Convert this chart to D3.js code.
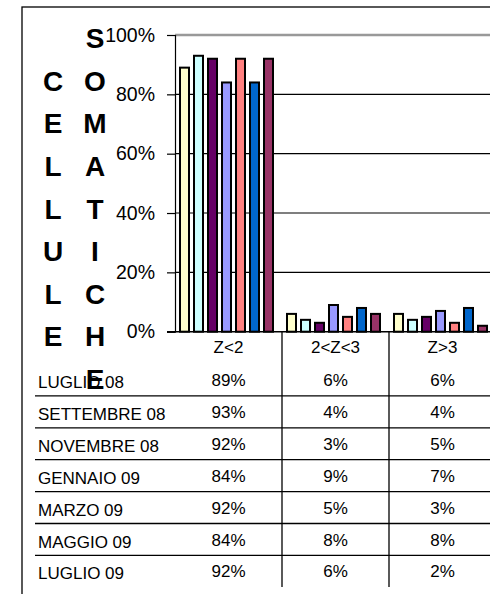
<!DOCTYPE html>
<html>
<head>
<meta charset="utf-8">
<script src="https://cdn.jsdelivr.net/npm/d3@7/dist/d3.min.js"></script>
<style>
  body { margin: 0; background: #fff; }
  text { font-family: "Liberation Sans", Arial, sans-serif; }
</style>
</head>
<body>
<svg id="chart" width="490" height="594"></svg>
<script>
// data
const categories = ["Z<2", "2<Z<3", "Z>3"];
const months = ["LUGLIO 08", "SETTEMBRE 08", "NOVEMBRE 08", "GENNAIO 09", "MARZO 09", "MAGGIO 09", "LUGLIO 09"];
const zLow  = [89, 93, 92, 84, 92, 84, 92];
const zMid  = [6, 4, 3, 9, 5, 8, 6];
const zHigh = [6, 4, 5, 7, 3, 8, 2];
const yTicks = [0, 20, 40, 60, 80, 100];
const titleLeft = "CELLULE";
const titleRight = "SOMATICHE";

const palette = ["#FFFFCC", "#CCFFFF", "#660066", "#9999FF", "#FF8080", "#0066CC", "#993366"];

let svg = d3.select("#chart");

let plotLeft = 175, plotTop = 35, plotBottom = 331.7, catW = 107;

let x = d3.scaleBand().domain(categories).range([plotLeft, plotLeft + catW * categories.length]);
let xs = d3.scaleBand().domain(months).range([5, 99]).paddingInner(0.286);
let y = d3.scaleLinear().domain([0, 100]).range([plotBottom, plotTop]);

// outer frame
svg.append("rect")
   .attr("x", 22).attr("y", 7)
   .attr("width", 600).attr("height", 700)
   .attr("fill", "none").attr("stroke", "#000").attr("stroke-width", 1.3);

// gridlines
svg.append("g").selectAll("line")
   .data(yTicks.filter(d => d > 0))
   .join("line")
   .attr("x1", plotLeft).attr("x2", 490)
   .attr("y1", d => y(d)).attr("y2", d => y(d))
   .attr("stroke", d => d === 100 ? "#999" : "#000")
   .attr("stroke-width", d => d === 100 ? 2.6 : 1.2);

// bars
let table = months.map((m, i) => ({ month: m, values: [zLow[i], zMid[i], zHigh[i]] }));
let barData = [];
table.forEach((row, i) => {
  categories.forEach((c, j) => barData.push({ cat: c, month: row.month, idx: i, value: row.values[j] }));
});

svg.append("g").selectAll("rect")
   .data(barData)
   .join("rect")
   .attr("x", d => x(d.cat) + xs(d.month))
   .attr("width", xs.bandwidth() - 1)
   .attr("y", d => y(d.value))
   .attr("height", d => y(0) - y(d.value))
   .attr("fill", d => palette[d.idx])
   .attr("stroke", "#000")
   .attr("stroke-width", 2);

// y axis
let yAxis = svg.append("g")
   .attr("transform", `translate(${plotLeft},0)`)
   .call(d3.axisLeft(y).tickValues(yTicks).tickFormat(d => d + "%").tickSize(8).tickPadding(12));
yAxis.select(".domain").attr("stroke", "#000").attr("stroke-width", 1.2);
yAxis.selectAll(".tick line").attr("stroke", "#000").attr("stroke-width", 1.2);
yAxis.selectAll("text").attr("font-size", 19.5).attr("fill", "#000")
     .style("font-family", "'Liberation Sans', Arial, sans-serif");

// x axis line
svg.append("line")
   .attr("x1", plotLeft - 8).attr("x2", 490)
   .attr("y1", plotBottom).attr("y2", plotBottom)
   .attr("stroke", "#000").attr("stroke-width", 1.5);

// data table: dividers between categories
svg.append("g").selectAll("line")
   .data(categories.slice(1))
   .join("line")
   .attr("x1", d => x(d)).attr("x2", d => x(d))
   .attr("y1", plotBottom).attr("y2", 587)
   .attr("stroke", "#000").attr("stroke-width", 1.3);

// header labels
svg.append("g").selectAll("text")
   .data(categories)
   .join("text")
   .attr("x", d => x(d) + x.bandwidth() / 2)
   .attr("y", plotBottom + 21)
   .attr("text-anchor", "middle")
   .attr("font-size", 17)
   .text(d => d);

let rowTop = 364, rowH = 31.9;

// row separators
svg.append("g").selectAll("line")
   .data(months.slice(0, -1))
   .join("line")
   .attr("x1", 35).attr("x2", 490)
   .attr("y1", (d, i) => rowTop + (i + 1) * rowH)
   .attr("y2", (d, i) => rowTop + (i + 1) * rowH)
   .attr("stroke", "#000").attr("stroke-width", 1.3);

let rows = svg.append("g").selectAll("g")
   .data(table)
   .join("g")
   .attr("transform", (d, i) => `translate(0,${rowTop + i * rowH})`);

rows.append("text")
    .attr("x", 38)
    .attr("y", 24)
    .attr("font-size", 17)
    .text(d => d.month);

rows.selectAll("text.val")
    .data(d => d.values.map((v, j) => ({ cat: categories[j], v })))
    .join("text")
    .attr("class", "val")
    .attr("x", d => x(d.cat) + x.bandwidth() / 2)
    .attr("y", 22)
    .attr("text-anchor", "middle")
    .attr("font-size", 17)
    .text(d => d.v + "%");

// stacked y-axis title, two columns centred on the same middle
let step = 42.6, mid = 218.5;
function stackCol(word, cx){
  let start = mid - (word.length - 1) * step / 2;
  svg.append("g").selectAll("text")
     .data(word.split(""))
     .join("text")
     .attr("x", cx)
     .attr("y", (d, i) => start + i * step)
     .attr("text-anchor", "middle")
     .attr("font-size", 28)
     .attr("font-weight", "bold")
     .text(d => d);
}
stackCol(titleLeft, 53);
stackCol(titleRight, 95);
</script>
</body>
</html>
